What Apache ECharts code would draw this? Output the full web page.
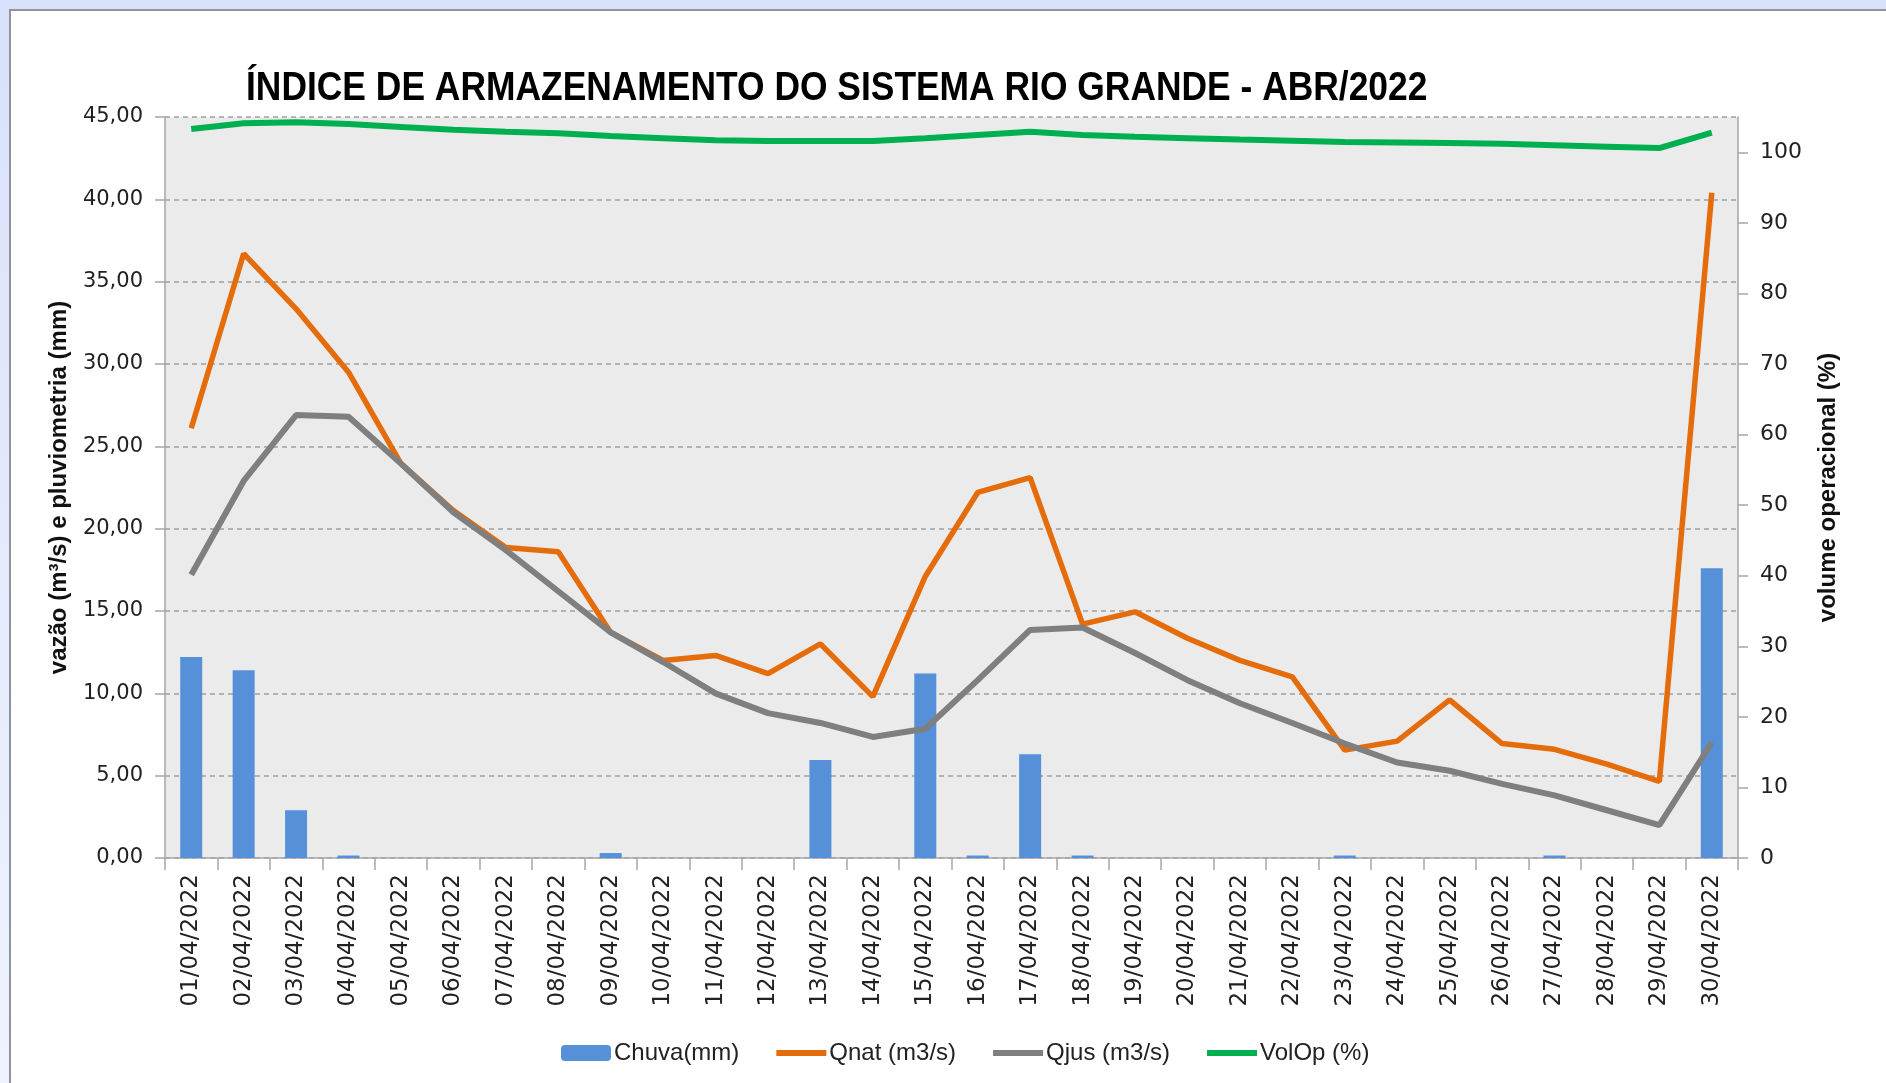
<!DOCTYPE html>
<html>
<head>
<meta charset="utf-8">
<script src="https://cdn.jsdelivr.net/npm/echarts@6/dist/echarts.min.js"></script>
<style>
  html, body { margin: 0; padding: 0; width: 1886px; height: 1083px; overflow: hidden;
    background: linear-gradient(to bottom, #d9e1fb 0%, #e3eafc 50%, #eef3fe 100%); }
  #panel { position: absolute; left: 9px; top: 9px; width: 1877px; height: 1074px;
    background: #ffffff; border-left: 2px solid #8e939c; border-top: 2px solid #8e939c; box-sizing: border-box; }
  #chart { position: absolute; left: 0; top: 0; width: 1886px; height: 1083px; }
</style>
</head>
<body>
<div id="panel"></div>
<div id="chart"></div>
<script>
const titleText = 'ÍNDICE DE ARMAZENAMENTO DO SISTEMA RIO GRANDE - ABR/2022';
const categories = ['01/04/2022','02/04/2022','03/04/2022','04/04/2022','05/04/2022','06/04/2022','07/04/2022','08/04/2022','09/04/2022','10/04/2022',
  '11/04/2022','12/04/2022','13/04/2022','14/04/2022','15/04/2022','16/04/2022','17/04/2022','18/04/2022','19/04/2022','20/04/2022',
  '21/04/2022','22/04/2022','23/04/2022','24/04/2022','25/04/2022','26/04/2022','27/04/2022','28/04/2022','29/04/2022','30/04/2022'];
const chuva = [12.2, 11.4, 2.9, 0.15, 0, 0, 0, 0, 0.3, 0, 0, 0, 5.95, 0, 11.2, 0.15, 6.3, 0.15, 0, 0, 0, 0, 0.15, 0, 0, 0, 0.15, 0, 0, 17.6];
const qnat = [26.1, 36.7, 33.35, 29.5, 23.95, 21.1, 18.85, 18.6, 13.7, 12.0, 12.3, 11.2, 13.0, 9.8, 17.1, 22.2, 23.1, 14.2, 14.95, 13.35, 12.0, 11.0, 6.55, 7.1, 9.6, 6.95, 6.6, 5.7, 4.65, 40.4];
const qjus = [17.2, 22.9, 26.9, 26.8, 23.95, 21.0, 18.7, 16.2, 13.7, 11.9, 10.0, 8.8, 8.2, 7.35, 7.85, 10.8, 13.85, 14.0, 12.45, 10.8, 9.4, 8.2, 6.95, 5.8, 5.3, 4.5, 3.8, 2.9, 2.0, 7.0];
const volop = [103.3, 104.1, 104.25, 104.0, 103.6, 103.2, 102.9, 102.7, 102.3, 102.0, 101.7, 101.6, 101.6, 101.6, 102.0, 102.45, 102.9, 102.45, 102.2, 102.0, 101.8, 101.65, 101.45, 101.4, 101.3, 101.2, 101.0, 100.8, 100.6, 102.8];
const seriesNames = ['Chuva(mm)', 'Qnat (m3/s)', 'Qjus (m3/s)', 'VolOp (%)'];
const leftAxisName = 'vazão (m³/s) e pluviometria (mm)';
const rightAxisName = 'volume operacional (%)';

const axisGray = '#a6a6a6';
const chart = echarts.init(document.getElementById('chart'), null, { renderer: 'canvas' });
chart.setOption({
  backgroundColor: 'transparent',
  animation: false,
  graphic: [{
    type: 'text', left: 246, top: 69, scaleX: 0.885, z: 10,
    style: { text: titleText, fill: '#000',
      font: 'bold 40px "Liberation Sans"' }
  }],
  legend: {
    left: 556, top: 1036,
    itemWidth: 50, itemHeight: 16, itemGap: 34,
    textStyle: { fontFamily: '"Liberation Sans"', fontSize: 24, color: '#222', padding: [0, 0, 0, -2] },
    data: [
      { name: seriesNames[0] },
      { name: seriesNames[1], itemStyle: { opacity: 0 }, lineStyle: { width: 6, color: '#e46c0a' } },
      { name: seriesNames[2], itemStyle: { opacity: 0 }, lineStyle: { width: 6, color: '#7f7f7f' } },
      { name: seriesNames[3], itemStyle: { opacity: 0 }, lineStyle: { width: 6, color: '#00b050' } }
    ]
  },
  grid: { left: 165, right: 148, top: 117, bottom: 225, show: true, backgroundColor: '#ebebeb', borderWidth: 0 },
  xAxis: {
    type: 'category', data: categories, boundaryGap: true,
    axisLine: { lineStyle: { color: axisGray, width: 1.5 } },
    axisTick: { show: true, alignWithLabel: false, length: 12, lineStyle: { color: axisGray, width: 1.5 } },
    axisLabel: { rotate: 90, margin: 16, fontFamily: '"DejaVu Sans"', fontSize: 23, color: '#222', interval: 0 }
  },
  yAxis: [
    {
      type: 'value', min: 0, max: 45, interval: 5,
      name: leftAxisName, nameLocation: 'middle', nameRotate: 90, nameGap: 94,
      nameTextStyle: { fontFamily: '"Liberation Sans"', fontWeight: 'bold', fontSize: 24, color: '#111' },
      axisLine: { show: true, lineStyle: { color: axisGray, width: 1.5 } },
      axisTick: { show: true, length: 10, lineStyle: { color: axisGray, width: 1.5 } },
      axisLabel: { margin: 22, fontFamily: '"DejaVu Sans"', fontSize: 21, color: '#222',
        formatter: (v) => v.toFixed(2).replace('.', ',') },
      splitLine: { show: true, lineStyle: { color: '#a0a0a0', type: [5, 4], width: 1.5 } }
    },
    {
      type: 'value', min: 0, max: 105, interval: 10, position: 'right',
      name: rightAxisName, nameLocation: 'middle', nameRotate: 90, nameGap: 78,
      nameTextStyle: { fontFamily: '"Liberation Sans"', fontWeight: 'bold', fontSize: 24, color: '#111' },
      axisLine: { show: true, lineStyle: { color: axisGray, width: 1.5 } },
      axisTick: { show: true, length: 10, lineStyle: { color: axisGray, width: 1.5 } },
      axisLabel: { margin: 22, fontFamily: '"DejaVu Sans"', fontSize: 22, color: '#222', showMaxLabel: false },
      splitLine: { show: false }
    }
  ],
  series: [
    { name: seriesNames[0], type: 'bar', data: chuva, barWidth: 22, itemStyle: { color: '#5590d8' }, yAxisIndex: 0 },
    { name: seriesNames[1], type: 'line', data: qnat, symbol: 'none', lineStyle: { color: '#e46c0a', width: 5.5 }, itemStyle: { color: '#e46c0a' }, yAxisIndex: 0 },
    { name: seriesNames[2], type: 'line', data: qjus, symbol: 'none', lineStyle: { color: '#7f7f7f', width: 6 }, itemStyle: { color: '#7f7f7f' }, yAxisIndex: 0 },
    { name: seriesNames[3], type: 'line', data: volop, symbol: 'none', lineStyle: { color: '#00b050', width: 6 }, itemStyle: { color: '#00b050' }, yAxisIndex: 1 }
  ]
});
</script>
</body>
</html>
